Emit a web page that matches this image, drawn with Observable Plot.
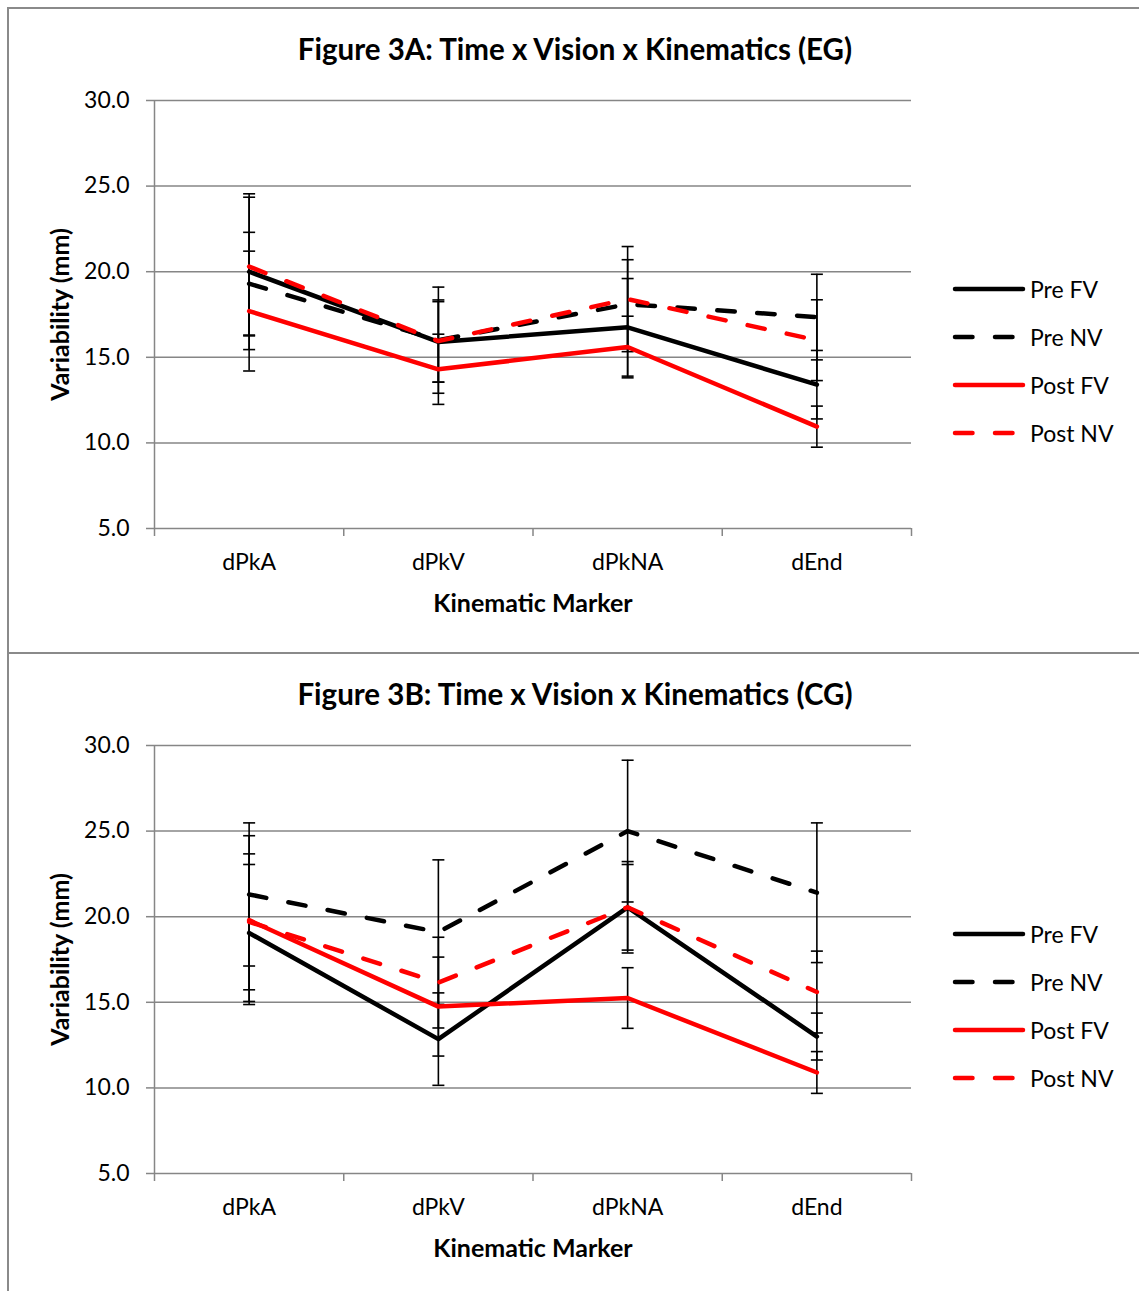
<!DOCTYPE html>
<html>
<head>
<meta charset="utf-8">
<script src="https://cdn.jsdelivr.net/npm/d3@7"></script>
<script src="https://cdn.jsdelivr.net/npm/@observablehq/plot@0.6"></script>
<style>
  html, body { margin: 0; padding: 0; background: #fff; }
  body { width: 1139px; height: 1291px; overflow: hidden; position: relative; font-family: Lato, sans-serif; }
  .panel { position: absolute; left: 7px; width: 1200px; border: 2px solid #8a8a8a; box-sizing: border-box; }
  .title { position: absolute; left: 0; width: 1150px; text-align: center; font-weight: bold; font-size: 29.5px; color: #000; }
  .chart { position: absolute; left: 0; }
  .legend { position: absolute; left: 952px; }
  .legend .row { position: absolute; left: 0; height: 30px; display: flex; align-items: center; white-space: nowrap; font-size: 23px; color: #000; }
  .legend svg { display: block; margin-right: 3px; }
</style>
</head>
<body>
<script>
// Kinematic markers along the x axis
const markers = ["dPkA", "dPkV", "dPkNA", "dEnd"];
const seriesNames = ["Pre FV", "Pre NV", "Post FV", "Post NV"];
const seriesColors = ["#000000", "#000000", "#ff0000", "#ff0000"];
const seriesDashed = [false, true, false, true];
const yTicks = [5, 10, 15, 20, 25, 30];

// Figure 3A (EG): mean variability (mm) and error-bar half widths
const egPreFV = [20.0, 15.9, 16.75, 13.4];
const egPreNV = [19.3, 16.0, 18.1, 17.35];
const egPostFV = [17.7, 14.3, 15.6, 10.95];
const egPostNV = [20.3, 15.95, 18.4, 16.0];
const egPreFVErr = [4.55, 2.35, 2.85, 2.0];
const egPreNVErr = [3.0, 3.1, 2.6, 2.5];
const egPostFVErr = [3.5, 2.05, 1.8, 1.2];
const egPostNVErr = [4.05, 2.4, 3.07, 2.36];

// Figure 3B (CG)
const cgPreFV = [19.05, 12.85, 20.55, 13.0];
const cgPreNV = [21.3, 19.1, 25.0, 21.4];
const cgPostFV = [19.8, 14.75, 15.25, 10.9];
const cgPostNV = [19.7, 16.15, 20.55, 15.6];
const cgPreFVErr = [4.0, 2.7, 2.67, 1.37];
const cgPreNVErr = [4.18, 4.22, 4.14, 4.08];
const cgPostFVErr = [4.93, 2.89, 1.77, 1.22];
const cgPostNVErr = [3.97, 2.65, 2.5, 2.39];

const panels = [
  {top: 0, title: "Figure 3A: Time x Vision x Kinematics (EG)",
   means: [egPreFV, egPreNV, egPostFV, egPostNV],
   errs: [egPreFVErr, egPreNVErr, egPostFVErr, egPostNVErr]},
  {top: 645, title: "Figure 3B: Time x Vision x Kinematics (CG)",
   means: [cgPreFV, cgPreNV, cgPostFV, cgPostNV],
   errs: [cgPreFVErr, cgPreNVErr, cgPostFVErr, cgPostNVErr]}
];

// horizontal cap for the error bars
const cap = {
  draw(context, size) {
    const w = Math.sqrt(size / Math.PI);
    context.moveTo(-w, 0);
    context.lineTo(w, 0);
  }
};

const DASH = "17.5,22.5";

function chart(means, errs) {
  const rows = [];
  seriesNames.forEach((s, k) => markers.forEach((m, i) => rows.push({
    series: s, k, pos: i + 0.5, marker: m, value: means[k][i], err: errs[k][i]
  })));
  const centers = markers.map((m, i) => i + 0.5);
  const bounds = d3.range(markers.length + 1);
  return Plot.plot({
    width: 940,
    height: 568,
    marginLeft: 154,
    marginRight: 29,
    marginTop: 30,
    marginBottom: 110,
    x: {domain: [0, markers.length]},
    y: {domain: [5, 30]},
    style: {fontFamily: "Lato, sans-serif", fontSize: "23px", color: "#000", background: "transparent", overflow: "visible"},
    marks: [
      Plot.ruleY(yTicks, {stroke: "#868686", strokeWidth: 1.5}),
      Plot.ruleX([0], {stroke: "#868686", strokeWidth: 1.5}),
      Plot.axisY({ticks: yTicks, tickFormat: d3.format(".1f"), tickSize: 8, tickPadding: 17, stroke: "#868686", strokeWidth: 1.5, label: null}),
      Plot.axisX({ticks: bounds, tickFormat: () => "", tickSize: 8, stroke: "#868686", strokeWidth: 1.5, label: null}),
      Plot.axisX({ticks: centers, tickFormat: (v) => markers[Math.floor(v)], tickSize: 0, tickPadding: 25, label: null}),
      Plot.text(["Kinematic Marker"], {frameAnchor: "bottom", lineAnchor: "middle", textAnchor: "middle", dy: 75, fontWeight: "bold", fontSize: 25}),
      Plot.text(["Variability (mm)"], {frameAnchor: "left", lineAnchor: "middle", textAnchor: "middle", dx: -94, rotate: -90, fontWeight: "bold", fontSize: 25}),
      // error bars
      Plot.ruleX(rows, {x: "pos", y1: (d) => d.value - d.err, y2: (d) => d.value + d.err, stroke: "#000", strokeWidth: 1.6}),
      Plot.dot(rows, {x: "pos", y: (d) => d.value - d.err, symbol: cap, r: 6, fill: "none", stroke: "#000", strokeWidth: 1.6}),
      Plot.dot(rows, {x: "pos", y: (d) => d.value + d.err, symbol: cap, r: 6, fill: "none", stroke: "#000", strokeWidth: 1.6}),
      // series lines
      ...seriesNames.map((s, k) => Plot.line(rows.filter((d) => d.k === k), {
        x: "pos", y: "value",
        stroke: seriesColors[k], strokeWidth: 4.5,
        strokeDasharray: seriesDashed[k] ? DASH : null,
        strokeLinecap: "round", strokeLinejoin: "round"
      }))
    ]
  });
}

function legend(top) {
  const div = document.createElement("div");
  div.className = "legend";
  div.style.top = top + "px";
  seriesNames.forEach((s, k) => {
    const row = document.createElement("div");
    row.className = "row";
    row.style.top = (k * 48 - 15) + "px";
    const ns = "http://www.w3.org/2000/svg";
    const svg = document.createElementNS(ns, "svg");
    svg.setAttribute("width", "75");
    svg.setAttribute("height", "10");
    const line = document.createElementNS(ns, "line");
    line.setAttribute("x1", "3");
    line.setAttribute("x2", "71");
    line.setAttribute("y1", "5");
    line.setAttribute("y2", "5");
    line.setAttribute("stroke", seriesColors[k]);
    line.setAttribute("stroke-width", "4.5");
    line.setAttribute("stroke-linecap", "round");
    if (seriesDashed[k]) line.setAttribute("stroke-dasharray", DASH);
    svg.appendChild(line);
    row.appendChild(svg);
    const label = document.createElement("span");
    label.textContent = s;
    row.appendChild(label);
    div.appendChild(row);
  });
  return div;
}

panels.forEach((p, idx) => {
  const frame = document.createElement("div");
  frame.className = "panel";
  frame.style.top = (7 + p.top) + "px";
  frame.style.height = idx === 0 ? "647px" : "700px";
  document.body.appendChild(frame);

  const title = document.createElement("div");
  title.className = "title";
  title.style.top = (31 + p.top) + "px";
  title.textContent = p.title;
  document.body.appendChild(title);

  const svg = chart(p.means, p.errs);
  svg.classList.add("chart");
  svg.style.position = "absolute";
  svg.style.top = (70 + p.top) + "px";
  svg.style.left = "0px";
  document.body.appendChild(svg);

  document.body.appendChild(legend(289 + p.top));
});
</script>
</body>
</html>
